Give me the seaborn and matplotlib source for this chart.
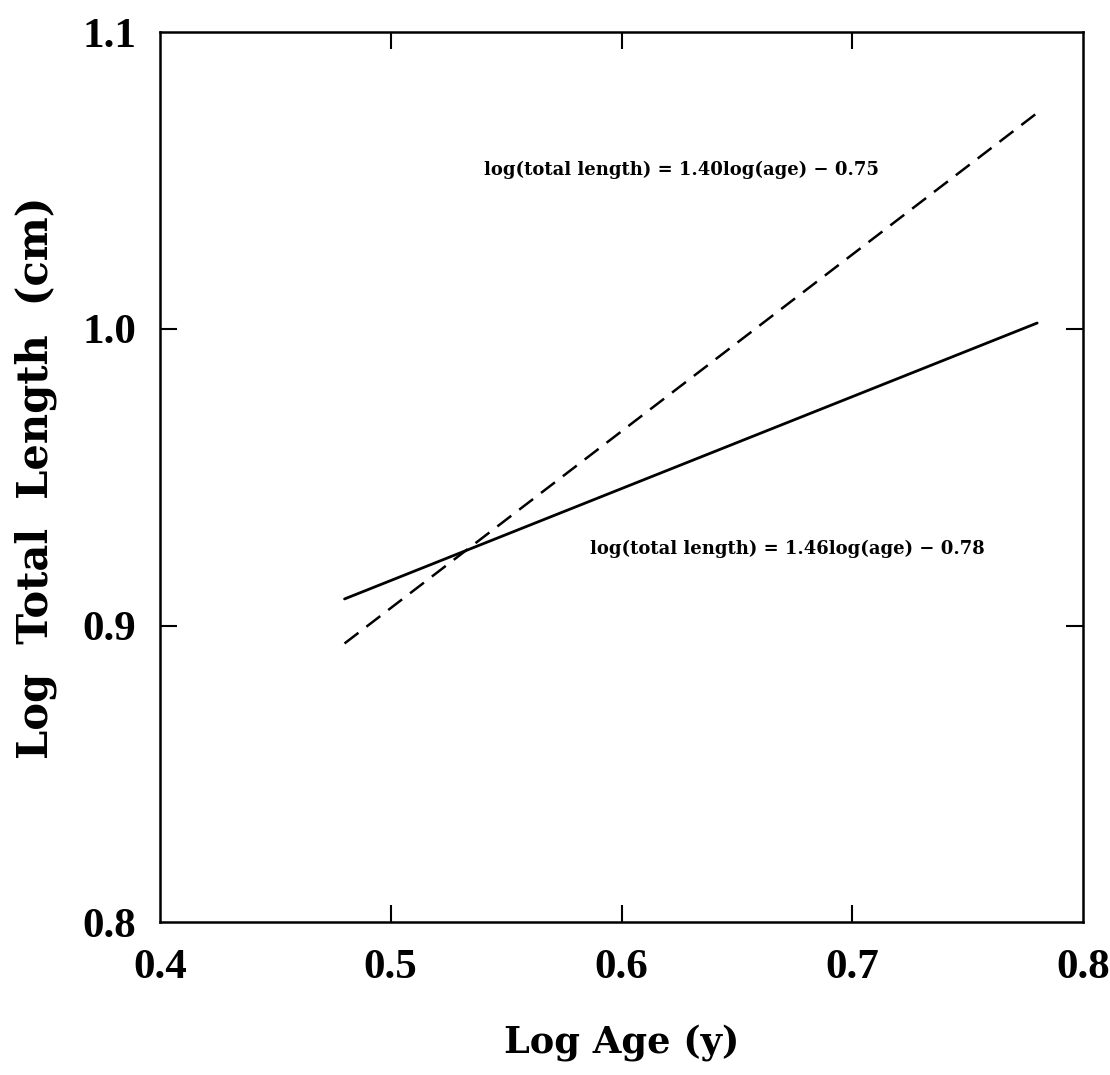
import matplotlib
matplotlib.use("Agg")
import matplotlib.pyplot as plt
import seaborn as sns
import pandas as pd

# Data
age_solid = [0.48, 0.78]
len_solid = [0.909, 1.002]
age_dashed = [0.48, 0.782]
len_dashed = [0.894, 1.074]

x_ticks = [0.4, 0.5, 0.6, 0.7, 0.8]
y_ticks = [0.8, 0.9, 1.0, 1.1]
eq_dashed = "log(total length) = 1.40log(age) − 0.75"
eq_solid = "log(total length) = 1.46log(age) − 0.78"

sns.set_theme(style="white")
plt.rcParams['font.family'] = ['DejaVu Serif', 'Liberation Serif']
plt.rcParams['text.color'] = 'black'
plt.rcParams['axes.labelcolor'] = 'black'
plt.rcParams['xtick.color'] = 'black'
plt.rcParams['ytick.color'] = 'black'

fig = plt.figure(figsize=(11.1, 10.75), dpi=100)
ax = fig.add_axes([0.144, 0.142, 0.832, 0.828])

df_s = pd.DataFrame({"x": age_solid, "y": len_solid})
df_d = pd.DataFrame({"x": age_dashed, "y": len_dashed})
sns.lineplot(data=df_s, x="x", y="y", ax=ax, color="black", linewidth=2.0)
sns.lineplot(data=df_d, x="x", y="y", ax=ax, color="black", linewidth=1.8,
             linestyle=(0, (7, 4)))

ax.set_xlim(0.4, 0.8)
ax.set_ylim(0.8, 1.1)
ax.set_xticks(x_ticks)
ax.set_yticks(y_ticks)
ax.set_xticklabels([f"{v:.1f}" for v in x_ticks])
ax.set_yticklabels([f"{v:.1f}" for v in y_ticks])
ax.tick_params(direction="in", length=12, width=1.5, top=True, right=True,
               bottom=True, left=True, labelsize=31, colors="black")
ax.tick_params(axis="x", pad=19)
ax.tick_params(axis="y", pad=17)
for lab in ax.get_xticklabels() + ax.get_yticklabels():
    lab.set_fontweight("bold")
    lab.set_fontfamily(["Liberation Serif", "DejaVu Serif"])
# hide tick marks that sit in the corners
for axis in (ax.xaxis, ax.yaxis):
    ticks = axis.get_major_ticks()
    for t in (ticks[0], ticks[-1]):
        t.tick1line.set_visible(False)
        t.tick2line.set_visible(False)
for sp in ax.spines.values():
    sp.set_color("black")
    sp.set_linewidth(1.8)

ax.set_xlabel("Log Age (y)", fontsize=26.5, fontweight="bold", labelpad=27)
ax.set_ylabel("Log  Total  Length  (cm)", fontsize=30, fontweight="bold", labelpad=18)

ax.text(0.626, 1.0535, eq_dashed, fontsize=13, fontweight="bold",
        ha="center", va="center")
ax.text(0.672, 0.926, eq_solid, fontsize=13, fontweight="bold",
        ha="center", va="center")

fig.savefig("out.png", dpi=100, facecolor="white")
